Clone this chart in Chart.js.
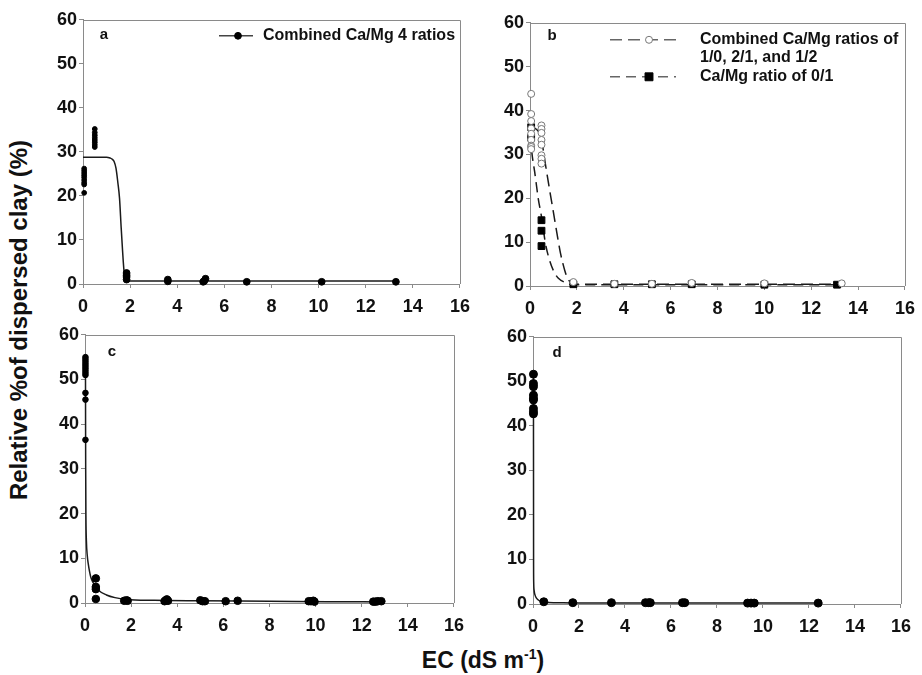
<!DOCTYPE html>
<html><head><meta charset="utf-8">
<script src="https://cdn.jsdelivr.net/npm/chart.js@4.4.1/dist/chart.umd.min.js"></script>
<style>
html,body{margin:0;padding:0;background:#fff;}
body{width:922px;height:675px;overflow:hidden;position:relative;font-family:"Liberation Sans",Arial,sans-serif;color:#111;}
canvas.pc{position:absolute;}
#ytitle{position:absolute;left:19px;top:320px;transform:translate(-50%,-50%) rotate(-90deg);white-space:nowrap;font-weight:bold;font-size:24px;}
#xtitle{position:absolute;left:483px;top:660px;transform:translate(-50%,-50%);white-space:nowrap;font-weight:bold;font-size:23px;}
#xtitle sup{font-size:14px;vertical-align:9px;line-height:0;}
</style></head>
<body>
<canvas id="ca" class="pc"></canvas>
<canvas id="cb" class="pc"></canvas>
<canvas id="cc" class="pc"></canvas>
<canvas id="cd" class="pc"></canvas>
<div id="ytitle">Relative %of dispersed clay (%)</div>
<div id="xtitle">EC (dS m<sup>-1</sup>)</div>
<script>
// ---------- data ----------
const xTicks = [0, 2, 4, 6, 8, 10, 12, 14, 16];
const yTicks = [0, 10, 20, 30, 40, 50, 60];

// panel a
const aLabel = 'Combined Ca/Mg 4 ratios';
const aX = [0.05,0.05,0.05,0.05,0.05,0.05,0.05,0.05,0.05, 0.5,0.5,0.5,0.5,0.5,0.5,0.5,0.5, 1.85,1.85,1.85,1.85, 3.6,3.6, 5.1,5.15,5.2, 6.95, 10.13, 13.28];
const aY = [26.2,25.7,25.2,24.7,24.2,23.6,23.0,22.6,20.7, 35.2,34.4,33.8,33.2,32.7,32.2,31.6,31.1, 2.5,2.0,1.6,1.0, 1.0,0.6, 0.5,0.7,1.2, 0.5, 0.5, 0.5];
const aCurveX = [0, 1.0, 1.15, 1.25, 1.32, 1.4, 1.48, 1.55, 1.62, 1.68, 1.74, 1.8, 1.9, 13.3];
const aCurveY = [28.8, 28.8, 28.6, 28.3, 27.8, 26.3, 23.0, 19.5, 12.8, 7.5, 3.0, 1.2, 0.7, 0.7];

// panel b
const bCircLabel = ['Combined Ca/Mg ratios of', '1/0, 2/1, and 1/2'];
const bSqLabel = ['Ca/Mg ratio of 0/1'];
const bCircX = [0.05,0.05,0.05,0.05,0.05,0.05,0.05,0.05,0.05, 0.49,0.49,0.49,0.49,0.49,0.49,0.49,0.49, 1.85, 3.6, 5.2, 6.9, 10.0, 13.3];
const bCircY = [43.8,39.2,37.6,35.9,34.7,33.3,32.0,31.7,31.2, 36.6,35.8,34.9,33.3,32.2,29.8,29.0,27.9, 0.9, 0.5, 0.5, 0.7, 0.6, 0.6];
const bSqX = [0.05,0.05, 0.49,0.49,0.49, 1.85, 3.6, 5.2, 6.9, 10.0, 13.1];
const bSqY = [36.2,33.8, 15.0,12.6,9.1, 0.4, 0.4, 0.4, 0.4, 0.3, 0.3];
const bCircCurveX = [0, 0.2, 0.35, 0.45, 0.55, 0.65, 0.84, 1.0, 1.15, 1.3, 1.48, 1.6, 1.75, 1.9, 13.2];
const bCircCurveY = [36.2, 36.0, 35.3, 34.2, 31.5, 28.0, 21.8, 16.8, 12.0, 7.5, 3.6, 1.8, 0.7, 0.4, 0.4];
const bSqCurveX = [0, 0.1, 0.2, 0.35, 0.5, 0.65, 0.8, 1.0, 1.2, 1.5, 1.8, 13.2];
const bSqCurveY = [34.5, 29.5, 26.0, 20.0, 15.5, 10.0, 6.5, 3.5, 1.8, 0.8, 0.3, 0.3];

// panel c
const cX = [0.02,0.02,0.02,0.02,0.02,0.02,0.02,0.02,0.02,0.02,0.02,0.02, 0.47,0.47,0.47,0.47, 1.7,1.8,1.85, 3.45,3.5,3.55,3.6, 5.0,5.1,5.2, 6.1, 6.62, 9.7,9.8,9.9,9.95, 12.5,12.6,12.7,12.85];
const cY = [55.0,54.5,54.0,53.5,53.0,52.5,52.0,51.5,51.0,47.0,45.5,36.5, 5.5,3.6,3.1,0.9, 0.5,0.6,0.5, 0.4,0.6,0.8,0.5, 0.6,0.4,0.4, 0.4, 0.5, 0.4,0.4,0.5,0.3, 0.3,0.3,0.4,0.4];
const cCurveX = [0.02, 0.025, 0.03, 0.04, 0.06, 0.1, 0.14, 0.25, 0.36, 0.6, 0.93, 1.3, 1.8, 3, 5, 8, 10.5, 12.85];
const cCurveY = [55, 40, 30, 19.5, 14, 10.5, 8.8, 5.8, 4.5, 2.8, 1.8, 1.2, 0.8, 0.6, 0.5, 0.4, 0.3, 0.25];

// panel d
const dX = [0.02,0.02,0.02,0.02,0.02,0.02,0.02,0.02,0.02, 0.47, 1.73, 3.41, 4.89,5.03,5.1, 6.5,6.6, 9.33,9.48,9.62, 12.4];
const dY = [51.6,49.5,48.8,46.9,46.2,45.8,43.9,43.2,42.7, 0.5, 0.3, 0.3, 0.3,0.3,0.3, 0.3,0.3, 0.2,0.2,0.2, 0.2];
const dCurveX = [0.02, 0.025, 0.03, 0.05, 0.09, 0.15, 0.3, 0.5, 1.0, 2.0, 12.4];
const dCurveY = [51.6, 10, 5, 3, 2, 1.3, 0.7, 0.4, 0.3, 0.2, 0.2];

// ---------- helpers ----------
const pts = (xs, ys) => xs.map((x, i) => ({x: x, y: ys[i]}));
const AXIS = '#8a8a8a';
const TICKFONT = {family: '"Liberation Sans", Arial, sans-serif', size: 18, weight: 'bold'};

function drawMarker(ctx, ds, x, y, r) {
  ctx.save();
  ctx.fillStyle = ds.backgroundColor;
  ctx.strokeStyle = ds.borderColor;
  ctx.lineWidth = ds.borderWidth || 1;
  ctx.beginPath();
  if (ds.pointStyle === 'rect') {
    const s = Math.SQRT1_2 * r;
    ctx.rect(x - s, y - s, 2 * s, 2 * s);
  } else {
    ctx.arc(x, y, r, 0, Math.PI * 2);
  }
  ctx.fill();
  ctx.stroke();
  ctx.restore();
}

const panelPlugin = {
  id: 'panel',
  beforeDatasetsDraw(chart) {
    const {ctx, chartArea: ca} = chart;
    ctx.save();
    ctx.strokeStyle = AXIS;
    ctx.lineWidth = 1;
    ctx.beginPath();
    ctx.moveTo(Math.round(ca.left), Math.round(ca.top) + 0.5);
    ctx.lineTo(Math.round(ca.right) + 0.5, Math.round(ca.top) + 0.5);
    ctx.lineTo(Math.round(ca.right) + 0.5, Math.round(ca.bottom));
    ctx.stroke();
    ctx.restore();
  },
  afterDraw(chart, args, opts) {
    const {ctx, chartArea: ca} = chart;
    ctx.save();
    ctx.fillStyle = '#111';
    ctx.font = 'bold 15px "Liberation Sans", Arial, sans-serif';
    ctx.textBaseline = 'middle';
    ctx.textAlign = 'center';
    ctx.fillText(opts.letter, ca.left + opts.letterDX, ca.top + opts.letterDY);
    ctx.font = 'bold 16px "Liberation Sans", Arial, sans-serif';
    ctx.textAlign = 'left';
    (opts.legend || []).forEach(it => {
      const lds = chart.data.datasets[it.line];
      const pds = chart.data.datasets[it.point];
      const y = ca.top + it.dy;
      ctx.save();
      ctx.strokeStyle = it.lineColor || lds.borderColor;
      ctx.lineWidth = lds.borderWidth;
      ctx.setLineDash(lds.borderDash || []);
      ctx.beginPath();
      ctx.moveTo(ca.left + it.x1, y);
      ctx.lineTo(ca.left + it.x2, y);
      ctx.stroke();
      ctx.restore();
      drawMarker(ctx, pds, ca.left + it.mx, y, it.r);
      it.text.forEach((t, k) => ctx.fillText(t, ca.left + it.tx, y + k * 18));
    });
    ctx.restore();
  }
};

function scales() {
  return {
    x: {
      type: 'linear', min: 0, max: 16,
      afterBuildTicks: s => { s.ticks = xTicks.map(v => ({value: v})); },
      afterFit: s => { s.height = 34; },
      grid: {drawOnChartArea: false, drawTicks: true, tickLength: 4, tickColor: AXIS},
      border: {display: true, color: AXIS, width: 1},
      ticks: {font: TICKFONT, color: '#111', padding: 8, maxRotation: 0}
    },
    y: {
      type: 'linear', min: 0, max: 60,
      afterBuildTicks: s => { s.ticks = yTicks.map(v => ({value: v})); },
      afterFit: s => { s.width = 50; },
      grid: {drawOnChartArea: false, drawTicks: true, tickLength: 4, tickColor: AXIS},
      border: {display: true, color: AXIS, width: 1},
      ticks: {font: TICKFONT, color: '#111', padding: 2}
    }
  };
}

function makePanel(id, area, datasets, panelOpts) {
  const cv = document.getElementById(id);
  const PL = 50, PT = 12, PR = 14, PB = 34;
  const w = (area.R - area.L) + PL + PR;
  const h = (area.B - area.T) + PT + PB;
  cv.width = w; cv.height = h;
  cv.style.width = w + 'px'; cv.style.height = h + 'px';
  cv.style.left = (area.L - PL) + 'px';
  cv.style.top = (area.T - PT) + 'px';
  return new Chart(cv, {
    type: 'scatter',
    data: {datasets: datasets},
    options: {
      responsive: false, animation: false, devicePixelRatio: 1,
      layout: {padding: {top: PT, right: PR, left: 0, bottom: 0}},
      plugins: {legend: {display: false}, tooltip: {enabled: false}, panel: panelOpts},
      scales: scales()
    },
    plugins: [panelPlugin]
  });
}

const curve = (label, xs, ys, extra) => Object.assign({
  label: label, data: pts(xs, ys), showLine: true, pointRadius: 0,
  borderColor: '#1a1a1a', borderWidth: 1.5, cubicInterpolationMode: 'monotone',
  fill: false, clip: false
}, extra || {});

// panel a
makePanel('ca', {L: 83, R: 464, T: 19, B: 284}, [
  {label: aLabel, data: pts(aX, aY), pointStyle: 'circle', backgroundColor: '#000', borderColor: '#000', borderWidth: 1,
   pointRadius: c => (c.raw && c.raw.y > 10 ? 2.4 : 3.4), clip: false},
  curve(aLabel + ' fit', aCurveX, aCurveY)
], {letter: 'a', letterDX: 21, letterDY: 15,
    legend: [{line: 1, point: 0, x1: 136, x2: 170, mx: 155, r: 3.4, dy: 16, tx: 180, text: [aLabel], lineColor: '#444'}]});

// panel b
makePanel('cb', {L: 530, R: 909, T: 22, B: 286}, [
  {label: bCircLabel.join(' '), data: pts(bCircX, bCircY), pointStyle: 'circle', backgroundColor: '#fff', borderColor: '#777', borderWidth: 1,
   pointRadius: 3.5, clip: false},
  {label: bSqLabel[0], data: pts(bSqX, bSqY), pointStyle: 'rect', backgroundColor: '#000', borderColor: '#000', borderWidth: 1,
   pointRadius: 4.8, clip: false},
  curve('fit 1/0, 2/1, 1/2', bCircCurveX, bCircCurveY, {borderDash: [12, 6]}),
  curve('fit 0/1', bSqCurveX, bSqCurveY, {borderDash: [10, 6]})
], {letter: 'b', letterDX: 22, letterDY: 13,
    legend: [
      {line: 2, point: 0, x1: 80, x2: 148, mx: 119, r: 3.5, dy: 17, tx: 170, text: bCircLabel, lineColor: '#666'},
      {line: 3, point: 1, x1: 80, x2: 146, mx: 119, r: 5.6, dy: 54, tx: 170, text: bSqLabel, lineColor: '#666'}
    ]});

// panel c
makePanel('cc', {L: 85, R: 458, T: 334, B: 603}, [
  {label: 'c', data: pts(cX, cY), pointStyle: 'circle', backgroundColor: '#000', borderColor: '#000', borderWidth: 1,
   pointRadius: c => (c.raw && c.raw.y > 30 ? 2.8 : 3.8), clip: false},
  curve('c fit', cCurveX, cCurveY)
], {letter: 'c', letterDX: 27, letterDY: 17});

// panel d
makePanel('cd', {L: 533, R: 905, T: 336, B: 604}, [
  {label: 'd', data: pts(dX, dY), pointStyle: 'circle', backgroundColor: '#000', borderColor: '#000', borderWidth: 1,
   pointRadius: 4, clip: false},
  curve('d fit', dCurveX, dCurveY)
], {letter: 'd', letterDX: 24, letterDY: 16});
</script>
</body></html>
